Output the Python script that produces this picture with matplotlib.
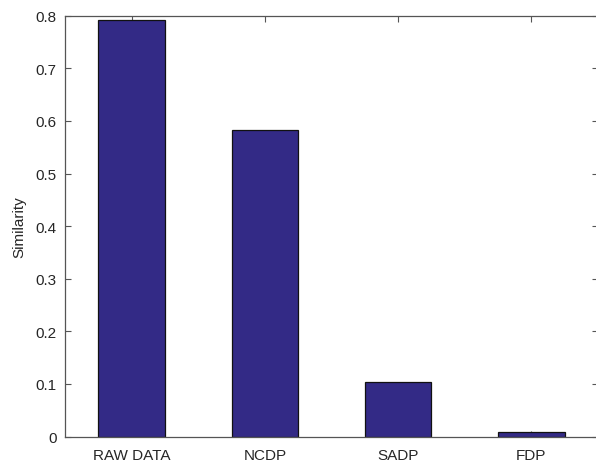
import matplotlib
matplotlib.use("Agg")
import matplotlib.pyplot as plt

categories = ["RAW DATA", "NCDP", "SADP", "FDP"]
similarity = [0.792, 0.583, 0.103, 0.009]
yticks = [0, 0.1, 0.2, 0.3, 0.4, 0.5, 0.6, 0.7, 0.8]
ytick_labels = ["0", "0.1", "0.2", "0.3", "0.4", "0.5", "0.6", "0.7", "0.8"]

plt.rcParams["font.family"] = ["Liberation Sans", "DejaVu Sans"]
plt.rcParams["font.size"] = 11

fig = plt.figure(figsize=(5.96, 4.64), dpi=100)
# axes box runs slightly past the right edge of the canvas
ax = fig.add_axes([65.2 / 596, 26.5 / 464, 532.6 / 596, 420.8 / 464])

pos = list(range(1, len(categories) + 1))
ax.bar(pos, similarity, width=0.5, color="#332A86", edgecolor="#111111",
       linewidth=0.9, zorder=2)

ax.set_xlim(0.5, 4.5)
ax.set_ylim(0, 0.8)
ax.set_xticks(pos)
ax.set_xticklabels(categories)
ax.set_yticks(yticks)
ax.set_yticklabels(ytick_labels)
ax.set_ylabel("Similarity", color="#262626", labelpad=7)

axis_col = "#555555"
for s in ax.spines.values():
    s.set_color(axis_col)
    s.set_linewidth(0.9)
ax.tick_params(direction="in", length=4, width=0.8, color=axis_col,
               labelcolor="#262626", top=True, right=True)
ax.tick_params(axis="x", pad=8)
ax.tick_params(axis="y", pad=6)

fig.savefig("out.png", dpi=100)
